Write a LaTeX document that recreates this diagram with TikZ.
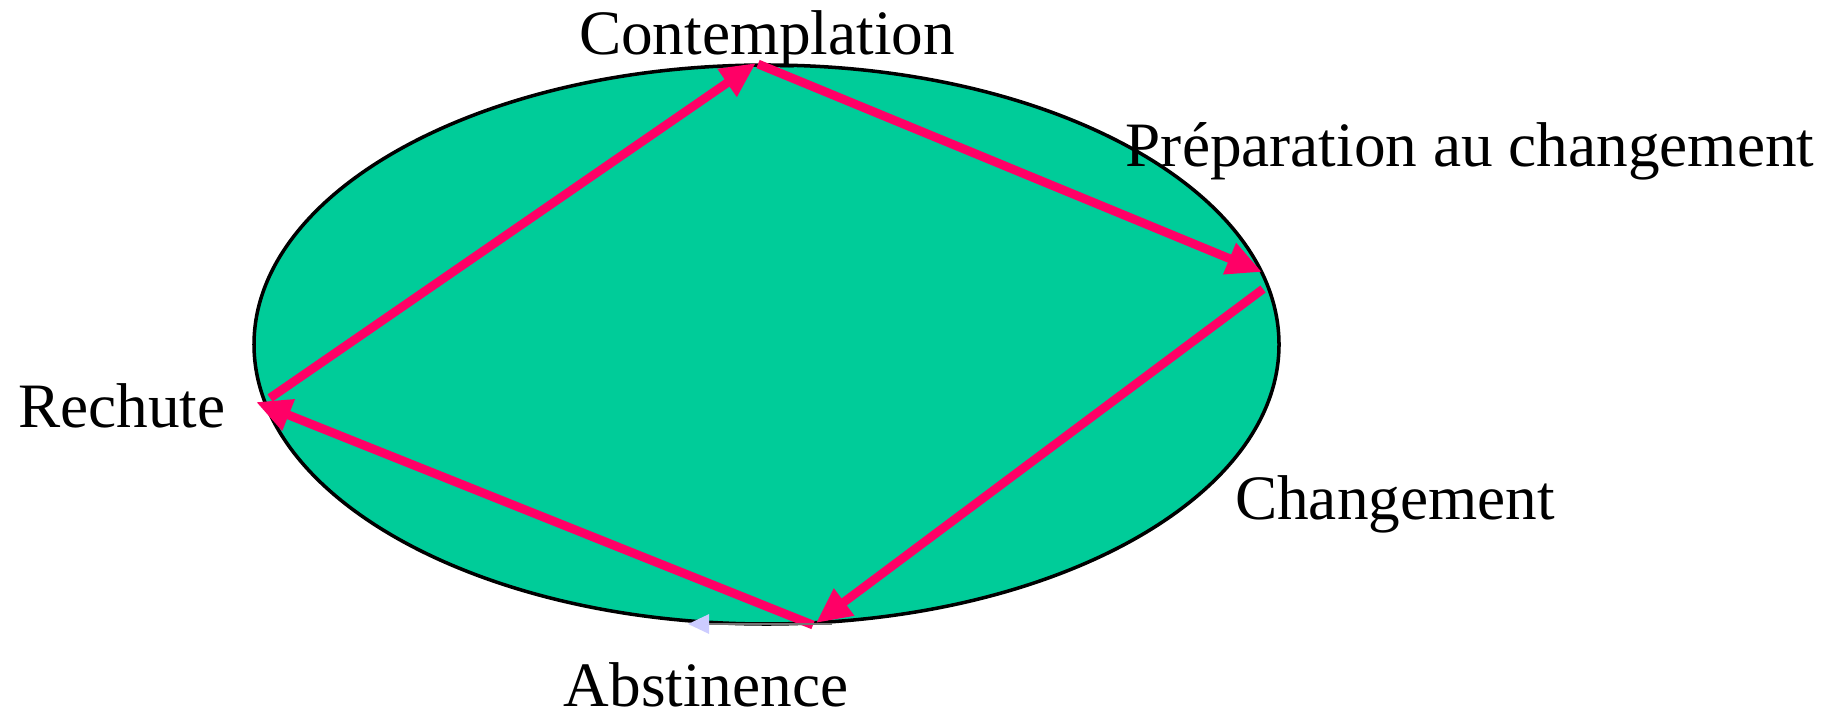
\documentclass[tikz,border=0pt]{standalone}
\usepackage{fontspec}
\setmainfont{Liberation Serif}
\usetikzlibrary{arrows.meta}
\definecolor{cyclegreen}{HTML}{00CC99}
\definecolor{cyclepink}{HTML}{FF0066}
\definecolor{lavender}{HTML}{CCCCFF}

\begin{document}
\begin{tikzpicture}[
    x=0.02cm, y=-0.02cm,
    stage/.style={font=\fontsize{36}{40}\selectfont, inner sep=0pt},
    cyc/.style={-{Triangle[length=20pt,width=18pt]}, cyclepink, line width=5pt},
]
\useasboundingbox (0,0) rectangle (1845,716);
% ellipse of the cycle
\draw[fill=cyclegreen, line width=2pt] (766.5,344.5) ellipse [x radius=512.5, y radius=279.5];

% corners of the cycle
\coordinate (top) at (756,63);
\coordinate (topin) at (758,64);
\coordinate (right) at (1262,272);
\coordinate (rightout) at (1263,289);
\coordinate (bottom) at (816,623);
\coordinate (bottomout) at (813,625);
\coordinate (left) at (256,402);
\coordinate (leftout) at (270,398);

% labels
\node[stage] (contemplation) at (767,39) {Contemplation};
\node[stage] (preparation) at (1470,151) {Préparation au changement};
\node[stage] (rechute) at (122,406) {Rechute};
\node[stage] (changement) at (1395,504) {Changement};
\node[stage] (abstinence) at (706,685) {Abstinence};

% arrows
\draw[cyc] (topin) -- (right);
\draw[cyc] (rightout) -- (bottom);
\draw[cyc] (bottomout) -- (left);
\draw[cyc] (leftout) -- (top);

% small arrow at the bottom
\coordinate (smallstart) at (832,624);
\coordinate (smallend) at (688,624);
\draw[-{Triangle[length=12pt,width=11pt,color=lavender]}, draw=black!55, line width=1.2pt]
    (smallstart) -- (smallend);
\end{tikzpicture}
\end{document}
